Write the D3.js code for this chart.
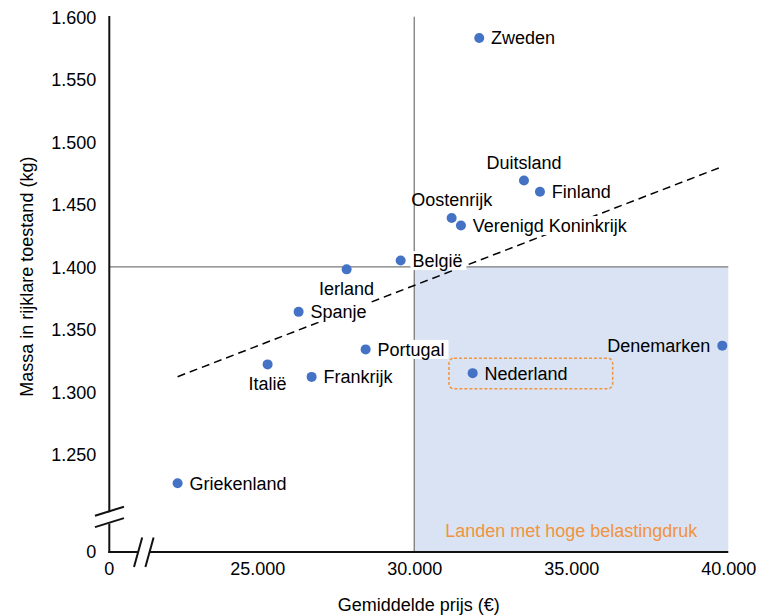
<!DOCTYPE html>
<html><head><meta charset="utf-8">
<script src="https://cdn.jsdelivr.net/npm/d3@7"></script>
<style>
body{margin:0;background:#fff}
svg{display:block}
text{font-family:"Liberation Sans",Arial,sans-serif;}
</style>
</head><body><svg id="chart" width="759" height="615"></svg>
<script>
// ---- data ----
const countries = ["Zweden","Duitsland","Finland","Oostenrijk","Verenigd Koninkrijk","België","Ierland","Spanje","Portugal","Italië","Frankrijk","Nederland","Denemarken","Griekenland"];
const prices = [32070,33494,34003,31191,31487,29567,27847,26318,28452,25331,26732,31860,39809,22465];
const masses = [1583,1469,1460,1439,1433,1405,1398,1364,1334,1322,1312,1315,1337,1227];
const yTicks = [1250,1300,1350,1400,1450,1500,1550,1600];
const xTicks = [25000,30000,35000,40000];
const breakLabel = "0";
const priceThreshold = 30000;
const massThreshold = 1400;
const zoneLabel = "Landen met hoge belastingdruk";
const xTitle = "Gemiddelde prijs (€)";
const yTitle = "Massa in rijklare toestand (kg)";
const highlighted = "Nederland";

// ---- layout / style ----
const W = 759, H = 615;
const L = 109.3, R = 728.3, T = 16.7, B = 552;
const xDomain = [20290, 40000], yDomain = [1172, 1600];
const FS = 18;
const blue = "#4472C4", orange = "#F0943F", zoneFill = "#DAE3F3", refGray = "#7a7a7a";
const placement = {"Zweden":"right","Duitsland":"above","Finland":"right","Oostenrijk":"above","Verenigd Koninkrijk":"right","België":"right","Ierland":"below","Spanje":"right","Portugal":"right","Italië":"below","Frankrijk":"right","Nederland":"right","Denemarken":"left","Griekenland":"right"};
const boxed = new Set(["België","Portugal","Spanje","Verenigd Koninkrijk"]);

const nl = d3.formatLocale({decimal:",", thousands:".", grouping:[3], currency:["€",""]});
const fmt = nl.format(",");

const svg = d3.select("#chart");
const x = d3.scaleLinear().domain(xDomain).range([L, R]);
const y = d3.scaleLinear().domain(yDomain).range([B, T]);

const data = countries.map((c,i)=>({name:c, x:prices[i], y:masses[i]}));

// shaded zone
svg.append("rect")
  .attr("x", x(priceThreshold)).attr("y", y(massThreshold))
  .attr("width", x(xDomain[1]) - x(priceThreshold))
  .attr("height", y(yDomain[0]) - y(massThreshold))
  .attr("fill", zoneFill);

svg.append("text")
  .attr("x", x((priceThreshold + xDomain[1]) / 2)).attr("y", B - 15)
  .attr("text-anchor","middle").attr("font-size", FS).attr("fill", orange)
  .text(zoneLabel);

// reference lines
svg.append("line").attr("x1", x(xDomain[0])).attr("x2", x(xDomain[1]))
  .attr("y1", y(massThreshold)).attr("y2", y(massThreshold))
  .attr("stroke", refGray).attr("stroke-width", 1.3);
svg.append("line").attr("x1", x(priceThreshold)).attr("x2", x(priceThreshold))
  .attr("y1", y(yDomain[1])).attr("y2", y(yDomain[0]))
  .attr("stroke", refGray).attr("stroke-width", 1.3);

// axes
const yAxis = d3.axisLeft(y).tickValues(yTicks).tickFormat(fmt).tickSize(0).tickPadding(13);
const gy = svg.append("g").attr("transform", `translate(${L},0)`).call(yAxis);
const xAxis = d3.axisBottom(x).tickValues(xTicks).tickFormat(fmt).tickSize(0).tickPadding(10);
const gx = svg.append("g").attr("transform", `translate(0,${B})`).call(xAxis);
[gx, gy].forEach(g => {
  g.select(".domain").remove();
  g.selectAll("text").attr("font-size", FS).attr("fill", "#000").attr("font-family", '"Liberation Sans",Arial,sans-serif');
});
gy.selectAll("text").attr("dy", "0.36em");
gx.selectAll("text").attr("dy", "0.71em");

// break labels "0"
svg.append("text").attr("x", L - 13).attr("y", B).attr("dy","0.36em")
  .attr("text-anchor","end").attr("font-size", FS).text(breakLabel);
svg.append("text").attr("x", L).attr("y", B + 10).attr("dy","0.71em")
  .attr("text-anchor","middle").attr("font-size", FS).text(breakLabel);

// axis lines
svg.append("line").attr("x1", L).attr("x2", L).attr("y1", T - 0.7).attr("y2", B + 1)
  .attr("stroke", "#111").attr("stroke-width", 2);
svg.append("line").attr("x1", L - 1).attr("x2", R).attr("y1", B).attr("y2", B)
  .attr("stroke", "#111").attr("stroke-width", 2);

// axis break marks (y axis)
const yb = B - 35;
svg.append("polygon")
  .attr("points", `${L-3},${yb+7.6} ${L+3},${yb+5.7} ${L+3},${yb-5.7} ${L-3},${yb-3.8}`)
  .attr("fill", "#fff");
[-5.7, 5.7].forEach(o => {
  svg.append("line").attr("x1", L - 14.3).attr("y1", yb + o + 4.4)
    .attr("x2", L + 14.7).attr("y2", yb + o - 4.6)
    .attr("stroke", "#111").attr("stroke-width", 2);
});
// axis break marks (x axis)
const xb = L + 34.5;
svg.append("polygon")
  .attr("points", `${xb-6},${B+3} ${xb+6},${B+3} ${xb+6},${B-3} ${xb-6},${B-3}`)
  .attr("fill", "#fff");
[-5.7, 5.7].forEach(o => {
  svg.append("line").attr("x1", xb + o - 4.1).attr("y1", B + 15)
    .attr("x2", xb + o + 4.1).attr("y2", B - 14.5)
    .attr("stroke", "#111").attr("stroke-width", 2);
});

// axis titles
svg.append("text").attr("x", (L + R) / 2).attr("y", 611)
  .attr("text-anchor","middle").attr("font-size", FS).attr("fill","#000").text(xTitle);
svg.append("text").attr("transform", `translate(33,${(T + B) / 2 - 7.7}) rotate(-90)`)
  .attr("text-anchor","middle").attr("font-size", FS).attr("fill","#000").text(yTitle);

// trendline (least squares)
const mx = d3.mean(data, d => d.x), my = d3.mean(data, d => d.y);
const slope = d3.sum(data, d => (d.x - mx) * (d.y - my)) / d3.sum(data, d => (d.x - mx) ** 2);
const icpt = my - slope * mx;
const [xmin, xmax] = d3.extent(data, d => d.x);
svg.append("line")
  .attr("x1", x(xmin)).attr("y1", y(icpt + slope * xmin))
  .attr("x2", x(xmax)).attr("y2", y(icpt + slope * xmax))
  .attr("stroke", "#000").attr("stroke-width", 1.5).attr("stroke-dasharray", "8,5");

// highlight box around Nederland
const hl = data.find(d => d.name === highlighted);
svg.append("rect")
  .attr("x", x(hl.x) - 23.7).attr("y", y(hl.y) - 15)
  .attr("width", 163.7).attr("height", 30.7).attr("rx", 5).attr("ry", 5)
  .attr("fill", "none").attr("stroke", orange).attr("stroke-width", 1.5)
  .attr("stroke-dasharray", "3,2");

// points
svg.append("g").selectAll("circle").data(data).join("circle")
  .attr("cx", d => x(d.x)).attr("cy", d => y(d.y)).attr("r", 5).attr("fill", blue);

// labels
const lg = svg.append("g");
data.forEach(d => {
  const px = x(d.x), py = y(d.y), p = placement[d.name];
  let tx = px, ty = py, anchor = "start";
  if (p === "right") { tx = px + 11.8; anchor = "start"; }
  else if (p === "left") { tx = px - 12; anchor = "end"; }
  else if (p === "above") { ty = py - 18.3; anchor = "middle"; }
  else if (p === "below") { ty = py + 18.7; anchor = "middle"; }
  const g = lg.append("g");
  const t = g.append("text").attr("x", tx).attr("y", ty).attr("dy", "0.36em")
    .attr("text-anchor", anchor).attr("font-size", FS).attr("fill", "#000").text(d.name);
  if (boxed.has(d.name)) {
    const bb = t.node().getBBox();
    g.insert("rect", "text").attr("x", bb.x - 2).attr("y", ty - 9.5)
      .attr("width", bb.width + 6).attr("height", 19).attr("fill", "#fff");
  }
});
</script>
</body></html>
